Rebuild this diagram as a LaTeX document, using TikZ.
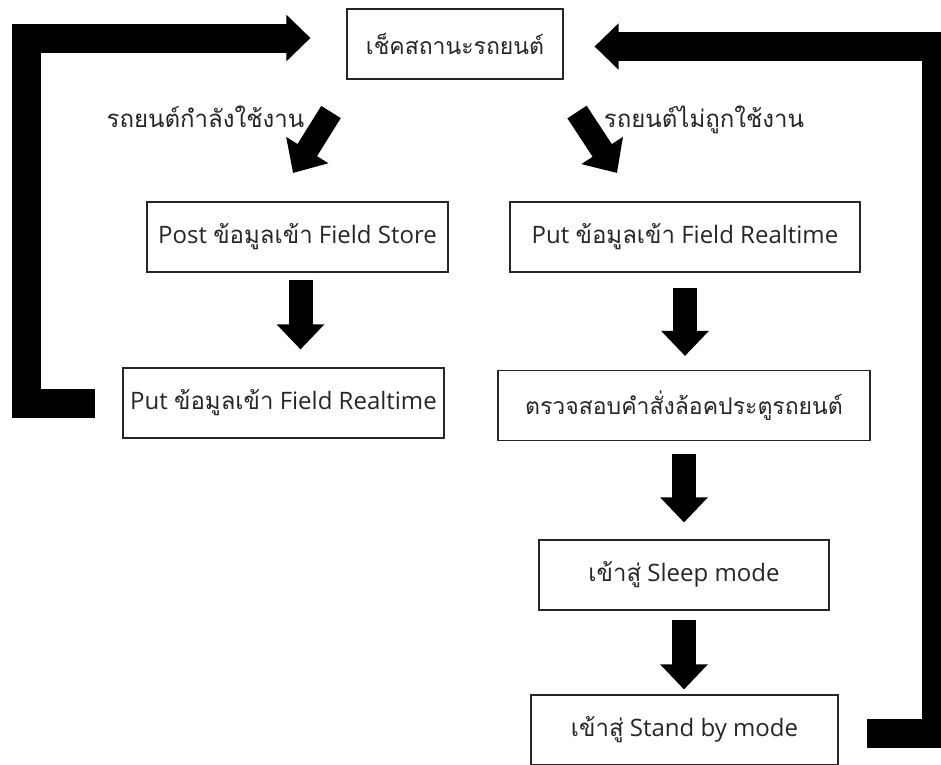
\documentclass[tikz,border=0pt]{standalone}
\usepackage{fontspec}
\setmainfont{Open Sans}
\newfontfamily\thaifont[Script=Thai]{Loma}
\usetikzlibrary{arrows.meta}

\begin{document}
\begin{tikzpicture}[x=1pt,y=-1pt,
  box/.style={draw=black!85, line width=1.1pt, minimum height=70pt, inner sep=0pt,
    text=black!85, font=\fontsize{24}{28}\selectfont},
  thaibox/.style={box, font=\thaifont\fontsize{23}{28}\selectfont},
  downarrow/.style={line width=24pt, -{Triangle[width=46pt,length=25pt]}},
  slantarrow/.style={line width=23pt, -{Triangle[width=48pt,length=27pt]}},
  looparrow/.style={line width=29pt, line join=miter, -{Triangle[width=45pt,length=24pt]}},
  lbl/.style={font=\thaifont\fontsize{24}{28}\selectfont, text=black!85, inner sep=0pt, anchor=base}
]
\useasboundingbox (0,0) rectangle (941,764);

% boxes
\node[thaibox, minimum width=216pt] (check) at (455,44) {เช็คสถานะรถยนต์};
\node[box, minimum width=301pt] (post) at (297.5,237) {Post {\thaifont ข้อมูลเข้า} Field Store};
\node[box, minimum width=321pt] (putL) at (283.5,403) {Put {\thaifont ข้อมูลเข้า} Field Realtime};
\node[box, minimum width=350pt] (putR) at (685,237) {Put {\thaifont ข้อมูลเข้า} Field Realtime};
\node[thaibox, minimum width=372pt] (verify) at (684,405.5) {ตรวจสอบคำสั่งล้อคประตูรถยนต์};
\node[box, minimum width=290pt] (sleep) at (684,575) {{\thaifont เข้าสู่} Sleep mode};
\node[box, minimum width=307pt] (standby) at (684.5,730) {{\thaifont เข้าสู่} Stand by mode};

% branch labels
\node[lbl] (busy) at (205.5,127) {รถยนต์กำลังใช้งาน};
\node[lbl] (idle) at (704,127) {รถยนต์ไม่ถูกใช้งาน};

% slanted arrows out of the status check
\coordinate (dl1) at (331,112);
\coordinate (dl2) at (293,173);
\coordinate (dr1) at (577,112);
\coordinate (dr2) at (617,173);
\draw[slantarrow] (dl1) -- (dl2);
\draw[slantarrow] (dr1) -- (dr2);

% vertical step arrows
\draw[downarrow, shorten <=7pt, shorten >=18pt]
  ([xshift=3pt]post.south) -- ([xshift=3pt]post.south |- putL.north);
\draw[downarrow, shorten <=15pt, shorten >=14pt] (putR.south) -- (putR.south |- verify.north);
\draw[downarrow, shorten <=13pt, shorten >=17pt] (verify.south) -- (verify.south |- sleep.north);
\draw[downarrow, shorten <=9pt, shorten >=5pt] (sleep.south) -- (sleep.south |- standby.north);

% return loops back to the status check
\coordinate (lstart) at (95,403);
\coordinate (lcorner) at (26.5,38);
\draw[looparrow, shorten >=36pt] (lstart) -| (lcorner) -- (check.west |- lcorner);

\coordinate (rstart) at (867,733);
\coordinate (rcorner) at (936.5,46.5);
\draw[looparrow, shorten >=31pt] (rstart) -| (rcorner) -- (check.east |- rcorner);
\end{tikzpicture}
\end{document}
